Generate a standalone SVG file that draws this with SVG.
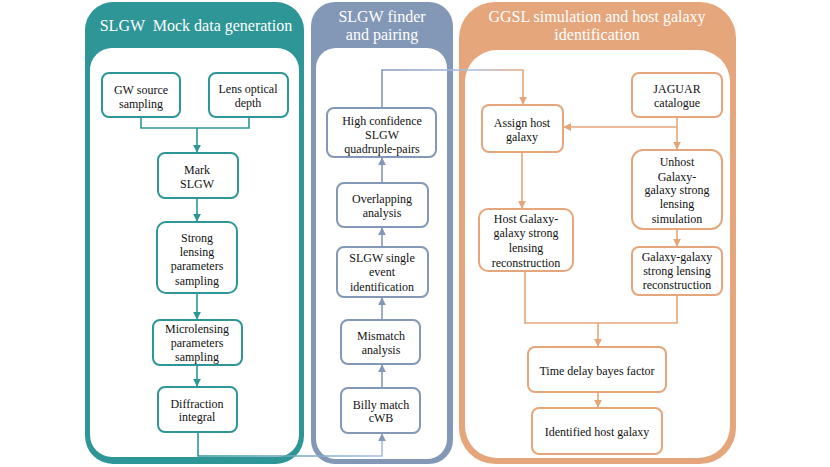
<svg xmlns="http://www.w3.org/2000/svg" width="830" height="467" viewBox="0 0 830 467">
<style>
text{font-family:"Liberation Serif","Times New Roman","DejaVu Serif",serif}
.t{font-size:12px;fill:#111;text-anchor:middle}
.h{font-size:16px;fill:#fff;text-anchor:middle;white-space:pre}
.nt{fill:#fff;stroke:#2e9696;stroke-width:2}
.nb{fill:#fff;stroke:#8398b6;stroke-width:2}
.no{fill:#fff;stroke:#e6a67c;stroke-width:2}
.ct{fill:none;stroke:#2e9696;stroke-width:1.6}
.cb{fill:none;stroke:#8398b6;stroke-width:1.6}
.co{fill:none;stroke:#e6a67c;stroke-width:1.6}
</style>
<defs>
<marker id="at" viewBox="0 0 10 10" refX="9" refY="5" markerWidth="5" markerHeight="5" orient="auto"><path d="M0,0L10,5L0,10z" fill="#2e9696"/></marker>
<marker id="ab" viewBox="0 0 10 10" refX="9" refY="5" markerWidth="5" markerHeight="5" orient="auto"><path d="M0,0L10,5L0,10z" fill="#8398b6"/></marker>
<marker id="ao" viewBox="0 0 10 10" refX="9" refY="5" markerWidth="5" markerHeight="5" orient="auto"><path d="M0,0L10,5L0,10z" fill="#e6a67c"/></marker>
<linearGradient id="g1" gradientUnits="userSpaceOnUse" x1="198" y1="0" x2="382" y2="0"><stop offset="0" stop-color="#2e9696"/><stop offset="1" stop-color="#a9bde0"/></linearGradient>
<linearGradient id="g2" gradientUnits="userSpaceOnUse" x1="382" y1="0" x2="523" y2="0"><stop offset="0" stop-color="#8398b6"/><stop offset="0.6" stop-color="#a9bde0"/><stop offset="1" stop-color="#e6a67c"/></linearGradient>
</defs>
<g id="panel-left">
<rect x="85" y="2" width="219" height="462" rx="28" fill="#2e9696"/>
<rect x="90" y="48" width="209" height="409" rx="22" fill="#fff"/>
<text class="h" x="196" y="31" xml:space="preserve">SLGW  Mock data generation</text>
</g>
<g id="panel-mid">
<rect x="311" y="2" width="142" height="462" rx="24" fill="#8398b6"/>
<rect x="316" y="48" width="131" height="411" rx="20" fill="#fff"/>
<text class="h" x="382" y="22">SLGW finder</text>
<text class="h" x="382" y="40">and pairing</text>
</g>
<g id="panel-right">
<rect x="459" y="2" width="277" height="462" rx="36" fill="#e6a67c"/>
<rect x="465" y="50" width="265" height="408" rx="32" fill="#fff"/>
<text class="h" x="597" y="22">GGSL simulation and host galaxy</text>
<text class="h" x="597" y="40">identification</text>
</g>
<g id="connectors">
<path class="ct" d="M141,117V128H249V117"/>
<path class="ct" d="M197,128V152" marker-end="url(#at)"/>
<path class="ct" d="M197,198V221" marker-end="url(#at)"/>
<path class="ct" d="M197,293V319" marker-end="url(#at)"/>
<path class="ct" d="M197,365V386" marker-end="url(#at)"/>
<path d="M198,432V456H382V434" fill="none" stroke="url(#g1)" stroke-width="1.6" marker-end="url(#ab)"/>
<path class="cb" d="M382,388V365" marker-end="url(#ab)"/>
<path class="cb" d="M382,320V298" marker-end="url(#ab)"/>
<path class="cb" d="M382,247V228" marker-end="url(#ab)"/>
<path class="cb" d="M382,183V158" marker-end="url(#ab)"/>
<path d="M382,108V70H523V104" fill="none" stroke="url(#g2)" stroke-width="1.6" marker-end="url(#ao)"/>
<path class="co" d="M677,117V149" marker-end="url(#ao)"/>
<path class="co" d="M677,127H564" marker-end="url(#ao)"/>
<path class="co" d="M522,152V208" marker-end="url(#ao)"/>
<path class="co" d="M677,229V246" marker-end="url(#ao)"/>
<path class="co" d="M525,271V323H677V295"/>
<path class="co" d="M598,323V346" marker-end="url(#ao)"/>
<path class="co" d="M598,392V407" marker-end="url(#ao)"/>
</g>
<g id="n-gw"><rect class="nt" x="102" y="73" width="78" height="44" rx="7"/><text class="t" x="141" y="94">GW source</text><text class="t" x="141" y="108">sampling</text></g>
<g id="n-lens"><rect class="nt" x="209" y="73" width="79" height="44" rx="7"/><text class="t" x="248" y="93">Lens optical</text><text class="t" x="248" y="107">depth</text></g>
<g id="n-mark"><rect class="nt" x="158" y="153" width="80" height="45" rx="7"/><text class="t" x="197" y="174">Mark</text><text class="t" x="197" y="188">SLGW</text></g>
<g id="n-strong"><rect class="nt" x="157" y="222" width="80" height="71" rx="9"/><text class="t" x="197" y="242">Strong</text><text class="t" x="197" y="256">lensing</text><text class="t" x="197" y="270">parameters</text><text class="t" x="197" y="285">sampling</text></g>
<g id="n-micro"><rect class="nt" x="153" y="320" width="89" height="45" rx="7"/><text class="t" x="197" y="333">Microlensing</text><text class="t" x="197" y="347">parameters</text><text class="t" x="197" y="361">sampling</text></g>
<g id="n-diff"><rect class="nt" x="158" y="387" width="79" height="45" rx="7"/><text class="t" x="197" y="408">Diffraction</text><text class="t" x="197" y="421">integral</text></g>
<g id="n-high"><rect class="nb" x="327" y="108" width="109" height="49" rx="7"/><text class="t" x="382" y="125">High confidence</text><text class="t" x="382" y="139">SLGW</text><text class="t" x="382" y="153">quadruple-pairs</text></g>
<g id="n-overlap"><rect class="nb" x="337" y="183" width="91" height="44" rx="7"/><text class="t" x="382" y="203">Overlapping</text><text class="t" x="382" y="217">analysis</text></g>
<g id="n-single"><rect class="nb" x="337" y="247" width="91" height="50" rx="7"/><text class="t" x="382" y="262">SLGW single</text><text class="t" x="382" y="276">event</text><text class="t" x="382" y="291">identification</text></g>
<g id="n-mismatch"><rect class="nb" x="341" y="320" width="79" height="44" rx="7"/><text class="t" x="381" y="340">Mismatch</text><text class="t" x="381" y="354">analysis</text></g>
<g id="n-billy"><rect class="nb" x="341" y="388" width="79" height="45" rx="7"/><text class="t" x="381" y="409">Billy match</text><text class="t" x="381" y="422">cWB</text></g>
<g id="n-assign"><rect class="no" x="482" y="105" width="81" height="47" rx="7"/><text class="t" x="522" y="127">Assign host</text><text class="t" x="522" y="141">galaxy</text></g>
<g id="n-jaguar"><rect class="no" x="632" y="73" width="90" height="44" rx="7"/><text class="t" x="677" y="93">JAGUAR</text><text class="t" x="677" y="107">catalogue</text></g>
<g id="n-hostrec"><rect class="no" x="479" y="209" width="94" height="62" rx="9"/><text class="t" x="526" y="223">Host Galaxy-</text><text class="t" x="526" y="237">galaxy strong</text><text class="t" x="526" y="252">lensing</text><text class="t" x="526" y="267">reconstruction</text></g>
<g id="n-unhost"><rect class="no" x="632" y="150" width="90" height="79" rx="11"/><text class="t" x="677" y="166">Unhost</text><text class="t" x="677" y="181">Galaxy-</text><text class="t" x="677" y="194">galaxy strong</text><text class="t" x="677" y="208">lensing</text><text class="t" x="677" y="223">simulation</text></g>
<g id="n-ggrec"><rect class="no" x="632" y="247" width="90" height="48" rx="7"/><text class="t" x="677" y="261">Galaxy-galaxy</text><text class="t" x="677" y="275">strong lensing</text><text class="t" x="677" y="289">reconstruction</text></g>
<g id="n-time"><rect class="no" x="528" y="347" width="138" height="45" rx="7"/><text class="t" x="597" y="375">Time delay bayes factor</text></g>
<g id="n-ident"><rect class="no" x="532" y="408" width="130" height="46" rx="7"/><text class="t" x="597" y="436">Identified host galaxy</text></g>
</svg>
